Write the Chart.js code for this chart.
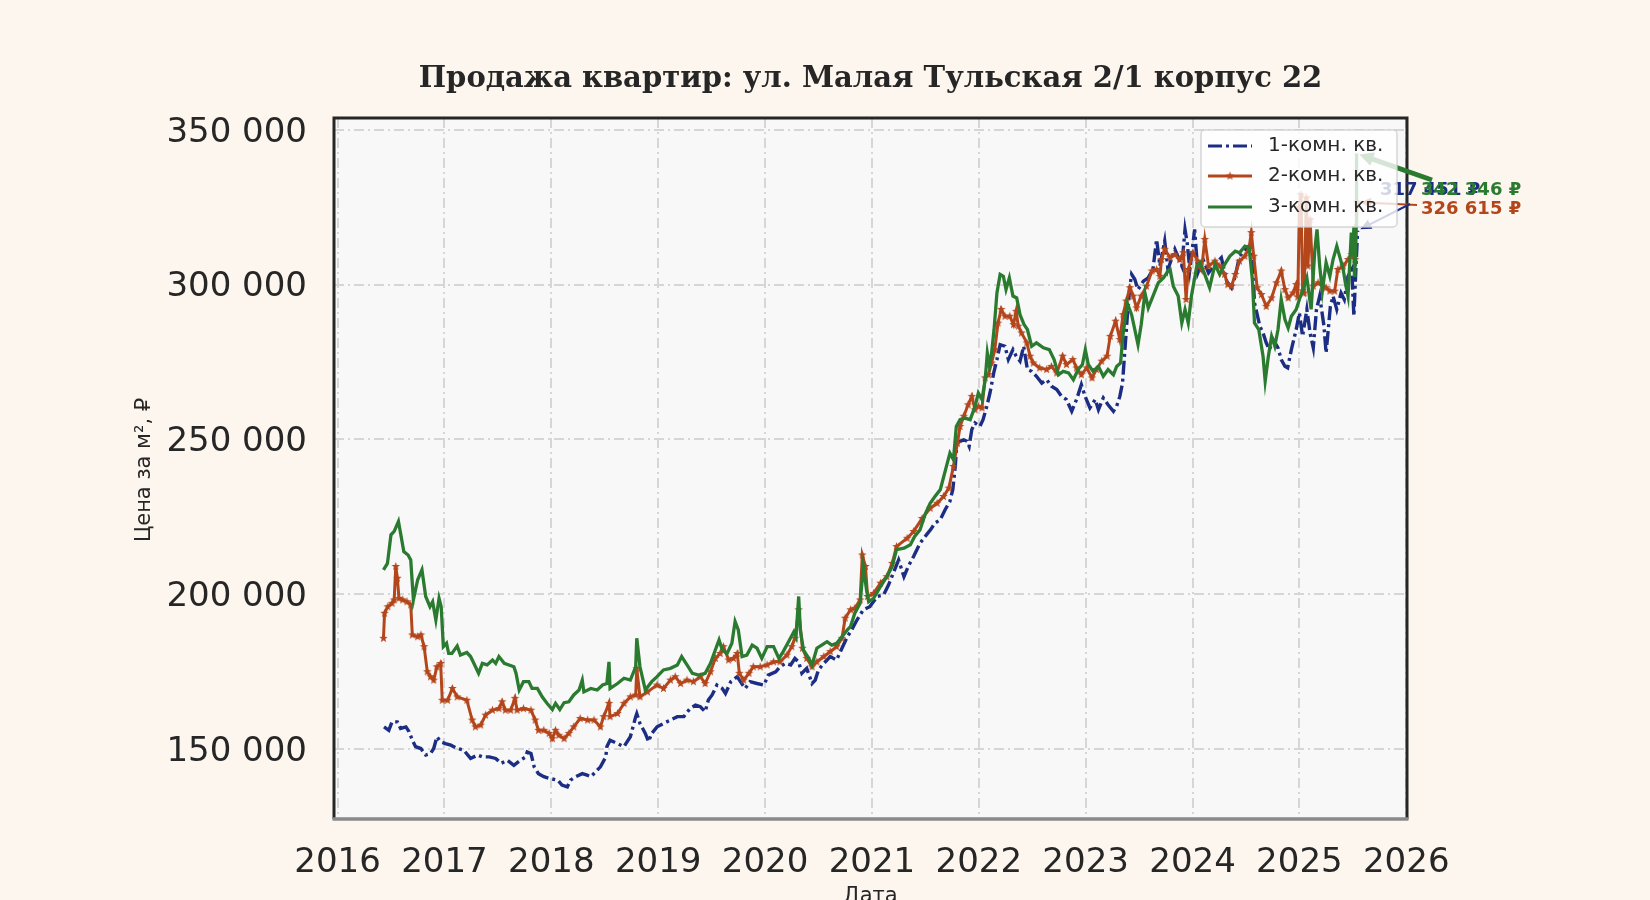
<!DOCTYPE html>
<html><head><meta charset="utf-8">
<script src="https://cdn.jsdelivr.net/npm/chart.js@4.4.1/dist/chart.umd.min.js"></script>
<style>html,body{margin:0;padding:0;background:#fdf6ee;overflow:hidden}canvas{display:block}</style>
</head><body><canvas id="c" width="1650" height="900"></canvas>
<script>
const chartTitle = 'Продажа квартир: ул. Малая Тульская 2/1 корпус 22';
const seriesNames = ['1-комн. кв.', '2-комн. кв.', '3-комн. кв.'];
const xAxisTitle = 'Дата';
const yAxisTitle = 'Цена за м², ₽';
const yearTicks = [2016, 2017, 2018, 2019, 2020, 2021, 2022, 2023, 2024, 2025, 2026];
const priceTicks = [150000, 200000, 250000, 300000, 350000];

const oneRoom = [
[2016.435,157200],[2016.48,156100],[2016.51,158800],[2016.56,158800],[2016.59,156700],[2016.64,157200],[2016.67,155600],[2016.70,152900],[2016.73,150800],[2016.78,150200],[2016.825,148100],[2016.87,148600],[2016.90,150200],[2016.93,154000],[2016.965,152400],[2017.01,151800],[2017.06,151300],[2017.12,150200],[2017.18,149700],[2017.245,147000],[2017.31,148100],[2017.355,147500],[2017.42,147500],[2017.48,147000],[2017.53,145400],[2017.59,146400],[2017.65,144800],[2017.71,146400],[2017.76,147500],[2017.775,149100],[2017.81,148600],[2017.84,144300],[2017.88,142100],[2017.93,141100],[2017.99,140500],[2018.06,140000],[2018.10,138400],[2018.15,137800],[2018.18,140000],[2018.23,141100],[2018.29,142100],[2018.335,141600],[2018.37,141100],[2018.43,143200],[2018.46,144300],[2018.51,147500],[2018.52,150800],[2018.55,152900],[2018.62,151800],[2018.68,150800],[2018.74,154000],[2018.79,160500],[2018.80,161500],[2018.83,158300],[2018.88,155100],[2018.91,152400],[2018.94,155100],[2018.99,157200],[2019.05,158300],[2019.115,159400],[2019.18,160500],[2019.24,160500],[2019.30,163200],[2019.35,164200],[2019.395,163700],[2019.44,162100],[2019.47,165900],[2019.505,167500],[2019.55,170700],[2019.60,169600],[2019.63,168000],[2019.68,171800],[2019.74,173400],[2019.77,171800],[2019.815,169600],[2019.86,171800],[2019.925,171200],[2019.99,170700],[2020.03,173900],[2020.10,175000],[2020.14,176600],[2020.19,177700],[2020.24,177200],[2020.28,179300],[2020.315,178200],[2020.345,174500],[2020.39,176100],[2020.44,171200],[2020.47,172300],[2020.50,175600],[2020.55,177700],[2020.61,179900],[2020.67,178800],[2020.72,182600],[2020.77,186300],[2020.81,188500],[2020.86,191700],[2020.92,195000],[2020.98,196000],[2021.05,199300],[2021.11,199800],[2021.155,203000],[2021.20,206800],[2021.25,211100],[2021.30,205700],[2021.34,209000],[2021.39,212200],[2021.45,216500],[2021.51,219200],[2021.55,220900],[2021.59,223000],[2021.64,224100],[2021.685,227300],[2021.73,230000],[2021.757,233800],[2021.78,241300],[2021.795,248800],[2021.825,249400],[2021.86,249900],[2021.89,249400],[2021.91,247800],[2021.935,253200],[2021.965,255300],[2022.01,254200],[2022.04,256400],[2022.075,260700],[2022.105,265000],[2022.14,271500],[2022.17,275800],[2022.20,280600],[2022.245,280100],[2022.277,275800],[2022.32,279000],[2022.35,276900],[2022.386,275300],[2022.42,280100],[2022.455,272600],[2022.495,272000],[2022.54,270400],[2022.59,268200],[2022.635,269300],[2022.68,267200],[2022.73,266100],[2022.775,263900],[2022.82,262900],[2022.87,259100],[2022.915,262900],[2022.96,267700],[2022.995,263900],[2023.04,260200],[2023.09,262900],[2023.12,259600],[2023.165,263400],[2023.21,261200],[2023.26,259100],[2023.29,260700],[2023.32,263900],[2023.345,268200],[2023.37,280100],[2023.39,289800],[2023.415,299500],[2023.43,303300],[2023.46,301700],[2023.49,298400],[2023.54,301100],[2023.585,302200],[2023.63,304900],[2023.664,314600],[2023.695,306000],[2023.74,314100],[2023.77,304900],[2023.835,311400],[2023.90,306000],[2023.93,317800],[2023.95,313500],[2023.975,304900],[2024.02,317800],[2024.05,303800],[2024.10,308100],[2024.15,303800],[2024.21,306500],[2024.27,308700],[2024.32,301100],[2024.365,299000],[2024.40,302700],[2024.44,309200],[2024.505,311900],[2024.55,313000],[2024.58,294100],[2024.63,286600],[2024.66,284400],[2024.69,281200],[2024.72,279000],[2024.754,282300],[2024.80,279600],[2024.83,275800],[2024.865,273600],[2024.89,273100],[2024.925,279000],[2024.97,285500],[2025.00,290900],[2025.03,283300],[2025.07,292000],[2025.10,284400],[2025.13,279600],[2025.16,292000],[2025.19,296300],[2025.23,286600],[2025.25,277900],[2025.29,293000],[2025.315,296300],[2025.35,292000],[2025.39,297300],[2025.42,295200],[2025.455,302700],[2025.49,304900],[2025.51,289800],[2025.53,306000],[2025.545,317451]
];

const twoRoom = [
[2016.43,185800],[2016.44,193900],[2016.47,196000],[2016.51,197100],[2016.53,198200],[2016.545,209000],[2016.56,205200],[2016.575,198700],[2016.61,198200],[2016.65,197600],[2016.685,196600],[2016.70,186900],[2016.75,186300],[2016.78,186900],[2016.81,183100],[2016.84,175000],[2016.87,173400],[2016.90,172300],[2016.93,176600],[2016.965,177700],[2016.98,165800],[2017.03,165800],[2017.075,169600],[2017.12,166900],[2017.21,165800],[2017.26,159400],[2017.29,157200],[2017.34,157800],[2017.385,161000],[2017.45,162600],[2017.51,163100],[2017.54,165300],[2017.57,162600],[2017.62,162600],[2017.66,166400],[2017.68,162600],[2017.74,163100],[2017.81,162600],[2017.85,159400],[2017.88,156100],[2017.93,156100],[2017.98,155100],[2018.01,153400],[2018.04,156100],[2018.07,154500],[2018.12,153400],[2018.165,155100],[2018.21,157200],[2018.27,159900],[2018.34,159400],[2018.40,159400],[2018.46,157200],[2018.49,160500],[2018.54,164800],[2018.55,160500],[2018.62,161500],[2018.68,164800],[2018.74,166900],[2018.79,167500],[2018.80,176100],[2018.83,166900],[2018.90,168500],[2018.99,170700],[2019.05,169600],[2019.115,172300],[2019.16,173400],[2019.21,171200],[2019.27,172300],[2019.33,171800],[2019.395,173400],[2019.44,171200],[2019.49,175000],[2019.535,179300],[2019.58,180900],[2019.61,183100],[2019.66,178800],[2019.705,179300],[2019.74,180900],[2019.76,174500],[2019.80,172300],[2019.85,174500],[2019.89,176600],[2019.955,176600],[2020.02,177200],[2020.08,178200],[2020.14,178200],[2020.205,180400],[2020.25,183100],[2020.28,185800],[2020.315,195000],[2020.35,182600],[2020.39,179300],[2020.44,176600],[2020.485,178200],[2020.55,179900],[2020.61,181500],[2020.67,183100],[2020.72,185800],[2020.75,192300],[2020.80,195000],[2020.84,195500],[2020.89,198200],[2020.91,212700],[2020.94,209000],[2020.96,199300],[2021.015,200300],[2021.08,203600],[2021.14,205700],[2021.19,210000],[2021.23,215400],[2021.33,218100],[2021.39,220300],[2021.47,224500],[2021.545,227800],[2021.61,229400],[2021.67,231600],[2021.72,234300],[2021.763,241300],[2021.80,248800],[2021.825,254200],[2021.86,257500],[2021.90,261200],[2021.935,263900],[2021.965,259600],[2021.996,260700],[2022.03,260200],[2022.06,269900],[2022.09,270900],[2022.12,274700],[2022.15,279000],[2022.18,287600],[2022.21,292000],[2022.245,289800],[2022.29,289800],[2022.325,287100],[2022.35,291400],[2022.37,286600],[2022.40,284400],[2022.45,281200],[2022.48,276900],[2022.51,274700],[2022.57,273100],[2022.635,272600],[2022.68,273600],[2022.73,271500],[2022.785,276900],[2022.82,274200],[2022.88,275800],[2022.915,273100],[2022.96,270900],[2023.01,273100],[2023.06,269900],[2023.10,272600],[2023.15,275300],[2023.20,276900],[2023.23,283300],[2023.28,288200],[2023.32,282300],[2023.35,290300],[2023.38,294700],[2023.414,299000],[2023.445,296300],[2023.476,292500],[2023.52,296300],[2023.57,299500],[2023.62,304400],[2023.664,304900],[2023.695,302700],[2023.71,308100],[2023.74,311400],[2023.79,308700],[2023.835,309700],[2023.88,308100],[2023.914,310300],[2023.94,295200],[2023.96,304900],[2024.005,310300],[2024.05,307600],[2024.085,304900],[2024.115,314600],[2024.15,306000],[2024.21,307600],[2024.255,306000],[2024.30,303300],[2024.33,300000],[2024.365,299500],[2024.40,303300],[2024.44,307600],[2024.49,309200],[2024.53,311900],[2024.55,316800],[2024.573,309200],[2024.605,299000],[2024.645,296800],[2024.69,293000],[2024.74,295700],[2024.785,300600],[2024.83,304400],[2024.865,298400],[2024.895,295700],[2024.94,297300],[2024.97,300000],[2024.985,296000],[2025.00,325000],[2025.015,329000],[2025.03,298000],[2025.045,297300],[2025.065,328000],[2025.08,306000],[2025.10,321000],[2025.13,299500],[2025.175,300600],[2025.22,299500],[2025.25,299000],[2025.285,297900],[2025.33,297900],[2025.36,304900],[2025.41,306000],[2025.455,308100],[2025.49,309700],[2025.52,308100],[2025.54,326615]
];

const threeRoom = [
[2016.43,207900],[2016.467,210000],[2016.50,219200],[2016.53,220300],[2016.57,223500],[2016.59,219700],[2016.62,213800],[2016.66,212700],[2016.685,211100],[2016.71,198200],[2016.75,204700],[2016.79,207900],[2016.825,199300],[2016.865,196000],[2016.89,197600],[2016.92,191700],[2016.95,198700],[2016.97,196000],[2016.99,183100],[2017.02,184200],[2017.04,180900],[2017.07,180900],[2017.12,183300],[2017.15,180400],[2017.21,181200],[2017.245,179900],[2017.32,174500],[2017.355,177700],[2017.40,177200],[2017.45,178800],[2017.48,177700],[2017.51,179900],[2017.56,177700],[2017.65,176600],[2017.67,174500],[2017.70,169100],[2017.74,171800],[2017.79,171800],[2017.82,169600],[2017.87,169600],[2017.915,166900],[2017.96,164800],[2018.01,162800],[2018.04,164800],[2018.08,162800],[2018.12,165000],[2018.165,165300],[2018.21,167500],[2018.26,169100],[2018.29,172300],[2018.305,168500],[2018.37,169600],[2018.43,169100],[2018.48,170700],[2018.52,171200],[2018.54,178200],[2018.55,169600],[2018.62,171200],[2018.68,172900],[2018.74,172300],[2018.79,176600],[2018.80,185800],[2018.83,176600],[2018.88,169100],[2018.94,171800],[2018.99,173400],[2019.05,175600],[2019.115,176100],[2019.18,177200],[2019.22,179900],[2019.27,177200],[2019.32,174500],[2019.38,173900],[2019.44,174500],[2019.49,177700],[2019.535,182000],[2019.57,185300],[2019.60,182000],[2019.645,180900],[2019.69,184200],[2019.72,191200],[2019.75,188500],[2019.785,179900],[2019.83,180400],[2019.88,183600],[2019.925,182600],[2019.97,179300],[2020.02,183100],[2020.08,183100],[2020.13,179300],[2020.17,181500],[2020.22,184700],[2020.27,187900],[2020.29,186300],[2020.315,199300],[2020.33,188500],[2020.36,182000],[2020.41,179300],[2020.44,177200],[2020.485,182600],[2020.53,183600],[2020.58,184700],[2020.625,183600],[2020.67,184200],[2020.72,186300],[2020.77,188500],[2020.80,189600],[2020.84,193900],[2020.89,197100],[2020.92,209000],[2020.95,201400],[2020.97,197600],[2021.015,198700],[2021.08,202500],[2021.14,205700],[2021.19,209000],[2021.23,214400],[2021.30,214900],[2021.36,216000],[2021.40,218700],[2021.45,220800],[2021.50,226000],[2021.545,229400],[2021.59,231600],[2021.64,233800],[2021.685,239700],[2021.73,245600],[2021.763,243500],[2021.79,254200],[2021.825,256400],[2021.87,256900],[2021.92,256400],[2021.965,260700],[2021.996,265000],[2022.03,262900],[2022.06,269300],[2022.08,277900],[2022.10,273600],[2022.12,277900],[2022.143,285500],[2022.17,297300],[2022.20,303300],[2022.23,302700],[2022.255,298400],[2022.286,302200],[2022.32,296300],[2022.355,295700],[2022.386,290300],[2022.424,287100],[2022.455,285500],[2022.495,280100],[2022.54,281200],[2022.605,279600],[2022.66,279000],[2022.705,275800],[2022.745,270900],[2022.79,272000],[2022.84,271500],[2022.885,269300],[2022.93,272600],[2022.97,274200],[2022.997,279000],[2023.025,274200],[2023.07,272000],[2023.12,273600],[2023.165,270400],[2023.21,272600],[2023.26,270900],[2023.29,273600],[2023.327,274700],[2023.35,283900],[2023.39,294000],[2023.43,290300],[2023.46,285500],[2023.49,280600],[2023.52,287100],[2023.555,297300],[2023.586,292500],[2023.63,296300],[2023.68,300600],[2023.73,302200],[2023.77,304400],[2023.79,304900],[2023.82,299500],[2023.866,296300],[2023.90,287600],[2023.93,292000],[2023.96,287600],[2023.99,296300],[2024.04,306000],[2024.07,307100],[2024.115,303300],[2024.16,299000],[2024.21,306500],[2024.255,303300],[2024.30,306500],[2024.35,309200],[2024.40,310800],[2024.44,310300],[2024.49,312400],[2024.53,311900],[2024.56,301700],[2024.58,287600],[2024.62,285500],[2024.66,276900],[2024.68,268800],[2024.71,276900],[2024.74,283300],[2024.77,280100],[2024.80,285500],[2024.83,295200],[2024.865,288700],[2024.895,286000],[2024.925,289800],[2024.97,292000],[2025.00,295200],[2025.034,298400],[2025.07,302200],[2025.11,292000],[2025.145,311400],[2025.165,317800],[2025.19,306000],[2025.215,297900],[2025.25,307100],[2025.285,302700],[2025.315,308100],[2025.35,312400],[2025.38,308700],[2025.41,304900],[2025.43,300600],[2025.455,296300],[2025.47,306000],[2025.486,316800],[2025.50,309200],[2025.51,318900],[2025.515,303000],[2025.52,318000],[2025.525,306000],[2025.53,319000],[2025.535,342346]
];

const seriesColors = ['#1c2d84', '#b4461b', '#2a7b2f'];

function fmt(v) { return String(Math.round(v)).replace(/\B(?=(\d{3})+(?!\d))/g, ' '); }
function toPts(arr) { return arr.map(p => ({x: p[0], y: p[1]})); }

function starCanvas(color, r) {
  const s = Math.ceil(r * 2 + 2);
  const c = document.createElement('canvas');
  c.width = c.height = s;
  const g = c.getContext('2d');
  g.fillStyle = color;
  g.beginPath();
  for (let i = 0; i < 10; i++) {
    const a = -Math.PI / 2 + i * Math.PI / 5;
    const rr = i % 2 ? r * 0.42 : r;
    g.lineTo(s / 2 + rr * Math.cos(a), s / 2 + rr * Math.sin(a));
  }
  g.closePath();
  g.fill();
  return c;
}
const starImg = starCanvas(seriesColors[1], 4.5);

const FONT = 'DejaVu Sans';
const TEXT = '#262626';

const decor = {
  id: 'decor',
  beforeDraw(chart) {
    const {ctx, chartArea: a} = chart;
    ctx.save();
    ctx.fillStyle = '#f8f8f9';
    ctx.fillRect(a.left, a.top, a.right - a.left, a.bottom - a.top);
    ctx.restore();
  },
  afterDraw(chart) {
    const {ctx, chartArea: a, scales} = chart;
    ctx.save();
    // spines
    ctx.lineCap = 'butt';
    ctx.strokeStyle = '#262626';
    ctx.lineWidth = 3;
    ctx.beginPath();
    ctx.moveTo(a.left, a.bottom); ctx.lineTo(a.left, a.top); ctx.lineTo(a.right, a.top); ctx.lineTo(a.right, a.bottom);
    ctx.stroke();
    ctx.strokeStyle = '#8a8a8a';
    ctx.lineWidth = 3.5;
    ctx.beginPath();
    ctx.moveTo(a.left - 1.5, a.bottom); ctx.lineTo(a.right + 1.5, a.bottom);
    ctx.stroke();

    // title
    ctx.fillStyle = TEXT;
    ctx.font = 'bold 29px "DejaVu Serif"';
    ctx.textAlign = 'center';
    ctx.textBaseline = 'middle';
    ctx.fillText(chartTitle, (a.left + a.right) / 2, 79);
    // axis titles
    ctx.font = '21px ' + FONT;
    ctx.textBaseline = 'alphabetic';
    ctx.fillText(xAxisTitle, (a.left + a.right) / 2, 902);
    ctx.save();
    ctx.translate(145, 470);
    ctx.rotate(-Math.PI / 2);
    ctx.textBaseline = 'middle';
    ctx.fillText(yAxisTitle, 0, 0);
    ctx.restore();

    // end annotations
    const series = [oneRoom, twoRoom, threeRoom];
    const labelPos = [[1380, 190], [1421, 209], [1421, 190]];
    const arrowFrom = [[1410, 204], [1417, 205], [1432, 180]];
    const arrowW = [2, 2, 5];
    const drawOrder = [1, 0, 2];
    drawOrder.forEach(i => {
      const last = series[i][series[i].length - 1];
      const px = scales.x.getPixelForValue(last[0]);
      const py = scales.y.getPixelForValue(last[1]);
      const [fx, fy] = arrowFrom[i];
      const ang = Math.atan2(py - fy, px - fx);
      const tipX = px - Math.cos(ang) * 3, tipY = py - Math.sin(ang) * 3;
      ctx.strokeStyle = seriesColors[i];
      ctx.fillStyle = seriesColors[i];
      ctx.lineWidth = arrowW[i];
      ctx.beginPath();
      ctx.moveTo(fx, fy);
      ctx.lineTo(tipX - Math.cos(ang) * 8, tipY - Math.sin(ang) * 8);
      ctx.stroke();
      const hl = i === 2 ? 14 : 11, hw = i === 2 ? 7 : 5;
      ctx.beginPath();
      ctx.moveTo(tipX, tipY);
      ctx.lineTo(tipX - Math.cos(ang) * hl + Math.sin(ang) * hw, tipY - Math.sin(ang) * hl - Math.cos(ang) * hw);
      ctx.lineTo(tipX - Math.cos(ang) * hl - Math.sin(ang) * hw, tipY - Math.sin(ang) * hl + Math.cos(ang) * hw);
      ctx.closePath();
      ctx.fill();
    });
    ctx.font = 'bold 18px ' + FONT;
    ctx.textAlign = 'left';
    ctx.textBaseline = 'middle';
    [0, 1, 2].forEach(i => {
      const last = series[i][series[i].length - 1];
      ctx.fillStyle = seriesColors[i];
      ctx.fillText(fmt(last[1]) + ' ₽', labelPos[i][0], labelPos[i][1]);
    });

    // legend (drawn over everything, semi-transparent)
    const lx = 1201, ly = 130, lw = 196, lh = 97;
    ctx.beginPath();
    ctx.roundRect(lx, ly, lw, lh, 4);
    ctx.fillStyle = 'rgba(255,255,255,0.8)';
    ctx.fill();
    ctx.strokeStyle = 'rgba(204,204,204,0.8)';
    ctx.lineWidth = 1.5;
    ctx.stroke();
    const rows = [146, 176, 207];
    seriesNames.forEach((name, i) => {
      const y = rows[i];
      ctx.strokeStyle = seriesColors[i];
      ctx.lineWidth = 3.2;
      ctx.setLineDash(i === 0 ? [14, 4, 3, 4] : []);
      ctx.beginPath();
      ctx.moveTo(1208, y); ctx.lineTo(1252, y);
      ctx.stroke();
      ctx.setLineDash([]);
      if (i === 1) ctx.drawImage(starImg, 1230 - starImg.width / 2, y - starImg.height / 2);
      ctx.fillStyle = TEXT;
      ctx.font = '20px ' + FONT;
      ctx.textAlign = 'left';
      ctx.textBaseline = 'middle';
      ctx.fillText(name, 1268, y);
    });
    ctx.restore();
  }
};

new Chart(document.getElementById('c'), {
  type: 'line',
  data: {
    datasets: [
      {label: seriesNames[0], data: toPts(oneRoom), borderColor: seriesColors[0], borderWidth: 3.4, borderDash: [14, 4, 3, 4], pointRadius: 0, tension: 0, order: 2},
      {label: seriesNames[1], data: toPts(twoRoom), borderColor: seriesColors[1], backgroundColor: seriesColors[1], borderWidth: 3, pointStyle: starImg, pointRadius: 4, tension: 0, order: 1},
      {label: seriesNames[2], data: toPts(threeRoom), borderColor: seriesColors[2], borderWidth: 3.3, pointRadius: 0, tension: 0, order: 0}
    ]
  },
  options: {
    responsive: false,
    animation: false,
    devicePixelRatio: 1,
    layout: {padding: {left: 0, right: 243, top: 118, bottom: 0}},
    plugins: {legend: {display: false}, title: {display: false}, tooltip: {enabled: false}},
    scales: {
      x: {
        type: 'linear', min: 2015.967, max: 2026.007,
        afterBuildTicks: s => { s.ticks = yearTicks.map(v => ({value: v})); },
        afterFit: s => { s.height = 81; },
        ticks: {autoSkip: false, maxRotation: 0, padding: 24, color: TEXT, font: {family: FONT, size: 34}, callback: v => String(v)},
        grid: {color: '#d6d6d6', lineWidth: 2, drawTicks: false},
        border: {display: false, dash: [10, 4, 2, 4]}
      },
      y: {
        type: 'linear', min: 127450, max: 353800,
        afterBuildTicks: s => { s.ticks = priceTicks.map(v => ({value: v})); },
        afterFit: s => { s.width = 334; },
        ticks: {padding: 27, labelOffset: 3, color: TEXT, font: {family: FONT, size: 34}, callback: v => fmt(v)},
        grid: {color: '#d6d6d6', lineWidth: 2, drawTicks: false},
        border: {display: false, dash: [10, 4, 2, 4]}
      }
    }
  },
  plugins: [decor]
});
</script></body></html>
